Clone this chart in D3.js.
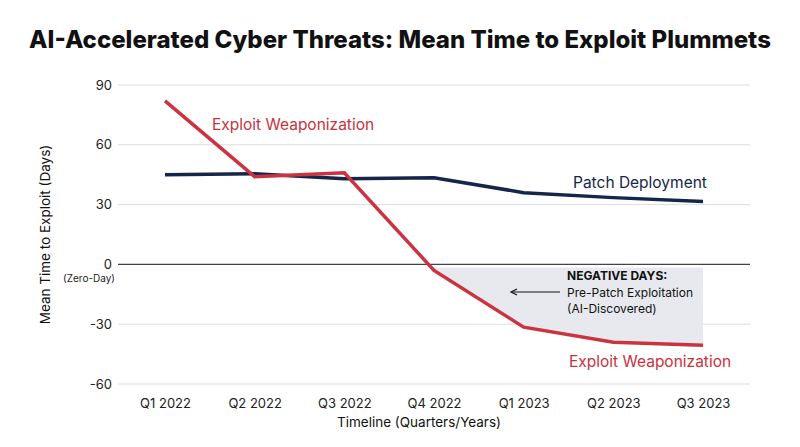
<!DOCTYPE html>
<html>
<head>
<meta charset="utf-8">
<script src="https://cdn.jsdelivr.net/npm/d3@7"></script>
<style>
  body { margin: 0; background: #fff; }
  text { font-family: Inter, "Noto Sans", sans-serif; }
</style>
</head>
<body>
<svg id="chart" width="800" height="447"></svg>
<script>
const quarters = ["Q1 2022", "Q2 2022", "Q3 2022", "Q4 2022", "Q1 2023", "Q2 2023", "Q3 2023"];
const exploitDays = [82, 44, 46, -3, -31.5, -39, -40.5];
const patchDays = [45, 45.5, 43, 43.5, 36, 33.5, 31.5];
const yTicks = [-60, -30, 0, 30, 60, 90];

const svg = d3.select("#chart");
const margin = { top: 85, right: 50, bottom: 63, left: 118 };
const width = 800, height = 447;

const x = d3.scalePoint().domain(quarters).range([165, 703]);
const y = d3.scaleLinear().domain([-60, 90]).range([height - margin.bottom, margin.top]);

svg.append("text")
  .attr("x", 400).attr("y", 48)
  .attr("text-anchor", "middle")
  .attr("font-size", 24).attr("font-weight", 800).attr("fill", "#111")
  .text("AI-Accelerated Cyber Threats: Mean Time to Exploit Plummets");

// grid
svg.append("g").selectAll("line").data(yTicks).join("line")
  .attr("x1", margin.left).attr("x2", width - margin.right)
  .attr("y1", d => y(d)).attr("y2", d => y(d))
  .attr("stroke", d => d === 0 ? "#444" : "#ddd")
  .attr("stroke-width", d => d === 0 ? 1.2 : 1);

// y axis labels
svg.append("g")
  .attr("transform", `translate(${margin.left - 3},0)`)
  .call(d3.axisLeft(y).tickValues(yTicks).tickSize(0).tickFormat(d => String(d)))
  .call(g => g.select(".domain").remove())
  .selectAll("text").attr("font-size", 13).attr("fill", "#222")
  .attr("font-family", "Inter, sans-serif");

svg.append("text").attr("x", 115).attr("y", 282).attr("text-anchor", "end")
  .attr("font-size", 10).attr("fill", "#222").text("(Zero-Day)");

// x axis labels
svg.append("g")
  .attr("transform", `translate(0,${height - margin.bottom + 12})`)
  .call(d3.axisBottom(x).tickSize(0))
  .call(g => g.select(".domain").remove())
  .selectAll("text").attr("font-size", 13).attr("fill", "#222")
  .attr("font-family", "Inter, sans-serif");

svg.append("text").attr("x", 419).attr("y", 427).attr("text-anchor", "middle")
  .attr("font-size", 13.5).attr("fill", "#111").text("Timeline (Quarters/Years)");

svg.append("text")
  .attr("transform", `translate(50,${y(15)}) rotate(-90)`)
  .attr("text-anchor", "middle").attr("font-size", 13.5).attr("fill", "#111")
  .text("Mean Time to Exploit (Days)");

// shaded negative area
const negIdx = d3.range(3, quarters.length);
const area = d3.area()
  .x(i => x(quarters[i]))
  .y0(y(-1.5))
  .y1(i => y(exploitDays[i]));
svg.append("path").datum(negIdx)
  .attr("fill", "#e7e9ee").attr("d", area);

// lines
const line = vals => d3.line().x((d, i) => x(quarters[i])).y(d => y(d))(vals);
svg.append("path").attr("d", line(patchDays))
  .attr("fill", "none").attr("stroke", "#14264a").attr("stroke-width", 3.5);
svg.append("path").attr("d", line(exploitDays))
  .attr("fill", "none").attr("stroke", "#cc3340").attr("stroke-width", 3.5);

// labels
svg.append("text").attr("x", 212).attr("y", 130).attr("font-size", 15.5)
  .attr("fill", "#c8323c").text("Exploit Weaponization");
svg.append("text").attr("x", 569).attr("y", 367).attr("font-size", 15.5)
  .attr("fill", "#c8323c").text("Exploit Weaponization");
svg.append("text").attr("x", 573).attr("y", 188).attr("font-size", 15.5)
  .attr("fill", "#14264a").text("Patch Deployment");

const ann = svg.append("text").attr("font-size", 12).attr("fill", "#111");
ann.append("tspan").attr("x", 567).attr("y", 280).attr("font-weight", 700).text("NEGATIVE DAYS:");
ann.append("tspan").attr("x", 567).attr("y", 297).text("Pre-Patch Exploitation");
ann.append("tspan").attr("x", 567).attr("y", 313).text("(AI-Discovered)");

// arrow pointing left
svg.append("line").attr("x1", 560).attr("x2", 512).attr("y1", 292).attr("y2", 292)
  .attr("stroke", "#111").attr("stroke-width", 1);
svg.append("path").attr("d", "M517,289 L511,292 L517,295")
  .attr("fill", "none").attr("stroke", "#111").attr("stroke-width", 1.2);
</script>
</body>
</html>
